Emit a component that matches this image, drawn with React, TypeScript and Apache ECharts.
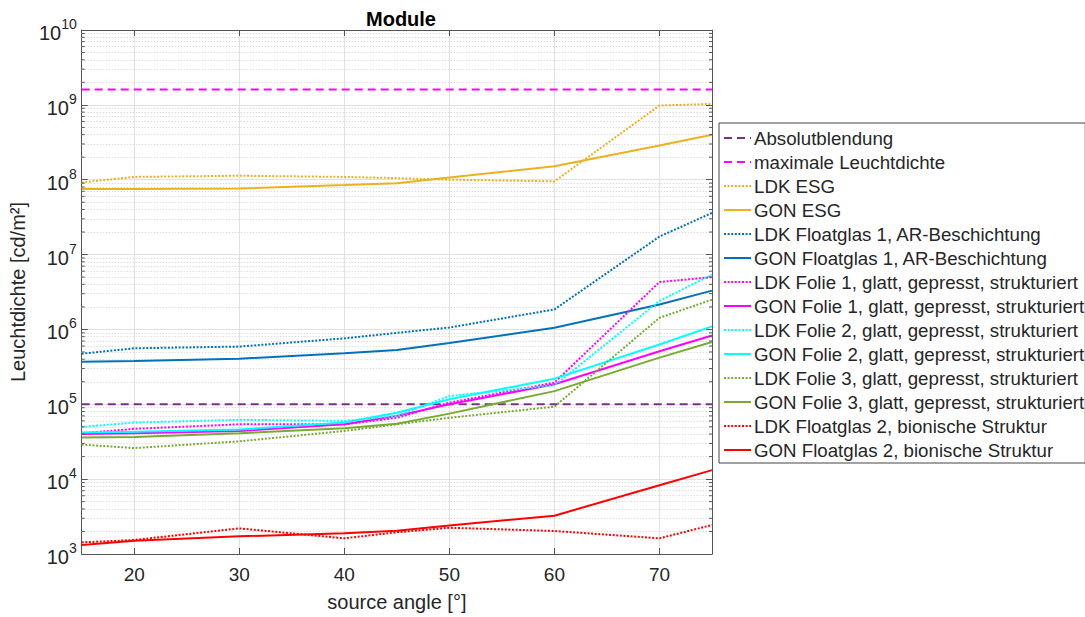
import React, { useEffect, useRef } from "react";
import * as echarts from "echarts";

const ANGLES = [15, 20, 30, 40, 45, 50, 60, 70, 75];

const ABSOLUTBLENDUNG = 1e5;
const MAX_LEUCHTDICHTE = 1.6e9;

const LDK_ESG = [9.2e7, 1.09e8, 1.13e8, 1.09e8, 1.05e8, 1.0e8, 9.5e7, 9.8e8, 1.03e9];
const GON_ESG = [7.5e7, 7.5e7, 7.65e7, 8.5e7, 9.0e7, 1.07e8, 1.51e8, 2.87e8, 4.0e8];
const LDK_FLOAT1 = [4.74e5, 5.6e5, 5.9e5, 7.6e5, 9.0e5, 1.06e6, 1.85e6, 1.74e7, 3.6e7];
const GON_FLOAT1 = [3.7e5, 3.8e5, 4.06e5, 4.8e5, 5.3e5, 6.6e5, 1.05e6, 2.15e6, 3.3e6];
const LDK_FOLIE1 = [4.1e4, 4.7e4, 5.4e4, 5.4e4, 6.6e4, 1.05e5, 1.95e5, 4.3e6, 5.0e6];
const GON_FOLIE1 = [4.0e4, 4.1e4, 4.4e4, 5.4e4, 7.0e4, 1.0e5, 1.85e5, 5.1e5, 8.3e5];
const LDK_FOLIE2 = [4.98e4, 5.7e4, 6.2e4, 6.0e4, 7.0e4, 1.29e5, 1.79e5, 2.4e6, 5.4e6];
const GON_FOLIE2 = [4.2e4, 4.3e4, 4.6e4, 5.7e4, 7.7e4, 1.17e5, 2.2e5, 6.3e5, 1.1e6];
const LDK_FOLIE3 = [2.9e4, 2.6e4, 3.2e4, 4.4e4, 5.4e4, 6.6e4, 9.3e4, 1.43e6, 2.5e6];
const GON_FOLIE3 = [3.6e4, 3.65e4, 4.1e4, 4.8e4, 5.5e4, 7.5e4, 1.5e5, 4.2e5, 6.8e5];
const LDK_FLOAT2 = [1.43e3, 1.54e3, 2.2e3, 1.62e3, 1.95e3, 2.24e3, 2.03e3, 1.62e3, 2.44e3];
const GON_FLOAT2 = [1.32e3, 1.5e3, 1.72e3, 1.9e3, 2.05e3, 2.4e3, 3.25e3, 8.3e3, 1.32e4];

const X_MIN = 15;
const X_MAX = 75;
const DECADES = [1e3, 1e4, 1e5, 1e6, 1e7, 1e8, 1e9];
const MINOR_STEPS = [2, 3, 4, 5, 6, 7, 8, 9];

const FONT = "'Liberation Sans', Arial, sans-serif";
const TXT = "#262626";
const AXIS = "#555";

const C_PURPLE = "#7E2F8E";
const C_MAGENTA = "#FF00FF";
const C_ORANGE = "#EDB120";
const C_BLUE = "#0072BD";
const C_CYAN = "#00FFFF";
const C_GREEN = "#77AC30";
const C_RED = "#FF0000";

const pairs = (vals: number[]) => ANGLES.map((a, i) => [a, vals[i]]);

export default function App() {
  const ref = useRef<HTMLDivElement>(null);
  useEffect(() => {
    if (!ref.current) return;
    const chart = echarts.init(ref.current, null, { renderer: "svg" });

    const minorValues: number[] = [];
    DECADES.forEach((d) => MINOR_STEPS.forEach((s) => minorValues.push(d * s)));
    const minorLines = minorValues.map((v) => ({ yAxis: v }));

    const lineSeries = (name: string, vals: number[], color: string, dotted: boolean) => ({
      name,
      type: "line",
      data: pairs(vals),
      symbol: "none",
      z: 3,
      lineStyle: { color, width: 2, type: dotted ? [2, 1.6] : "solid" },
      itemStyle: { color },
    });

    const option: any = {
      animation: false,
      title: {
        text: "Module",
        left: 396,
        top: 4,
        textAlign: "center",
        textStyle: { fontFamily: FONT, fontSize: 20, fontWeight: "bold", color: "#000" },
      },
      grid: { left: 80, top: 30, right: 1085 - 712, bottom: 617 - 556, containLabel: false },
      legend: {
        orient: "vertical",
        left: 719,
        top: 123,
        itemWidth: 27,
        itemHeight: 14,
        itemGap: 0,
        padding: [3, 1, 1, 4],
        borderColor: "#444",
        borderWidth: 1,
        backgroundColor: "#fff",
        itemStyle: { opacity: 0, borderWidth: 0 },
        textStyle: { fontFamily: FONT, fontSize: 18.7, color: TXT, lineHeight: 24, padding: [0, 0, 0, -2] },
        data: [
          "Absolutblendung",
          "maximale Leuchtdichte",
          "LDK ESG",
          "GON ESG",
          "LDK Floatglas 1, AR-Beschichtung",
          "GON Floatglas 1, AR-Beschichtung",
          "LDK Folie 1, glatt, gepresst, strukturiert",
          "GON Folie 1, glatt, gepresst, strukturiert",
          "LDK Folie 2, glatt, gepresst, strukturiert",
          "GON Folie 2, glatt, gepresst, strukturiert",
          "LDK Folie 3, glatt, gepresst, strukturiert",
          "GON Folie 3, glatt, gepresst, strukturiert",
          "LDK Floatglas 2, bionische Struktur",
          "GON Floatglas 2, bionische Struktur",
        ],
      },
      xAxis: [
        {
          type: "value",
          min: X_MIN,
          max: X_MAX,
          splitNumber: 6,
          name: "source angle [°]",
          nameLocation: "middle",
          nameGap: 38,
          nameTextStyle: { fontFamily: FONT, fontSize: 20, color: TXT },
          axisLine: { show: true, onZero: false, lineStyle: { color: AXIS, width: 1 } },
          axisTick: { show: true, inside: true, length: 6, lineStyle: { color: AXIS } },
          axisLabel: {
            showMinLabel: false,
            showMaxLabel: false,
            margin: 11,
            fontFamily: FONT,
            fontSize: 19,
            color: TXT,
          },
          splitLine: { show: true, lineStyle: { color: "#e1e1e1", width: 1 } },
        },
        {
          type: "value",
          position: "top",
          min: X_MIN,
          max: X_MAX,
          splitNumber: 6,
          axisLine: { show: true, onZero: false, lineStyle: { color: AXIS, width: 1 } },
          axisTick: { show: true, inside: true, length: 6, lineStyle: { color: AXIS } },
          axisLabel: { show: false },
          splitLine: { show: false },
        },
      ],
      yAxis: [
        {
          type: "log",
          logBase: 10,
          min: 1e3,
          max: 1e10,
          splitNumber: 7,
          name: "Leuchtdichte [cd/m²]",
          nameLocation: "middle",
          nameGap: 52,
          nameTextStyle: { fontFamily: FONT, fontSize: 20, color: TXT },
          axisLine: { show: true, onZero: false, lineStyle: { color: AXIS, width: 1 } },
          axisTick: { show: true, inside: true, length: 6, lineStyle: { color: AXIS } },
          axisLabel: {
            margin: 5,
            formatter: (v: number) => `{b|10}{s|${Math.round(Math.log10(v))}}`,
            rich: {
              b: { fontFamily: FONT, fontSize: 20, color: TXT, lineHeight: 26, verticalAlign: "bottom" },
              s: { fontFamily: FONT, fontSize: 14, color: TXT, lineHeight: 14, verticalAlign: "top" },
            },
          },
          splitLine: { show: true, lineStyle: { color: "#e1e1e1", width: 1 } },
        },
        {
          type: "log",
          logBase: 10,
          min: 1e3,
          max: 1e10,
          splitNumber: 7,
          position: "right",
          axisLine: { show: true, onZero: false, lineStyle: { color: AXIS, width: 1 } },
          axisTick: { show: true, inside: true, length: 6, lineStyle: { color: AXIS } },
          axisLabel: { show: false },
          splitLine: { show: false },
        },
      ],
      series: [
        {
          name: "Absolutblendung",
          type: "line",
          data: [
            [X_MIN, ABSOLUTBLENDUNG],
            [X_MAX, ABSOLUTBLENDUNG],
          ],
          symbol: "none",
          z: 3,
          lineStyle: { color: C_PURPLE, width: 2, type: [8, 5] },
          itemStyle: { color: C_PURPLE },
          markLine: {
            silent: true,
            symbol: "none",
            z: 1,
            label: { show: false },
            lineStyle: { color: "#cfcfcf", width: 1, type: [1, 2] },
            emphasis: { disabled: true },
            data: minorLines,
          },
        },
        {
          name: "maximale Leuchtdichte",
          type: "line",
          data: [
            [X_MIN, MAX_LEUCHTDICHTE],
            [X_MAX, MAX_LEUCHTDICHTE],
          ],
          symbol: "none",
          z: 3,
          lineStyle: { color: C_MAGENTA, width: 2, type: [8, 5] },
          itemStyle: { color: C_MAGENTA },
        },
        lineSeries("LDK ESG", LDK_ESG, C_ORANGE, true),
        lineSeries("GON ESG", GON_ESG, C_ORANGE, false),
        lineSeries("LDK Floatglas 1, AR-Beschichtung", LDK_FLOAT1, C_BLUE, true),
        lineSeries("GON Floatglas 1, AR-Beschichtung", GON_FLOAT1, C_BLUE, false),
        lineSeries("LDK Folie 1, glatt, gepresst, strukturiert", LDK_FOLIE1, C_MAGENTA, true),
        lineSeries("GON Folie 1, glatt, gepresst, strukturiert", GON_FOLIE1, C_MAGENTA, false),
        lineSeries("LDK Folie 2, glatt, gepresst, strukturiert", LDK_FOLIE2, C_CYAN, true),
        lineSeries("GON Folie 2, glatt, gepresst, strukturiert", GON_FOLIE2, C_CYAN, false),
        lineSeries("LDK Folie 3, glatt, gepresst, strukturiert", LDK_FOLIE3, C_GREEN, true),
        lineSeries("GON Folie 3, glatt, gepresst, strukturiert", GON_FOLIE3, C_GREEN, false),
        lineSeries("LDK Floatglas 2, bionische Struktur", LDK_FLOAT2, C_RED, true),
        lineSeries("GON Floatglas 2, bionische Struktur", GON_FLOAT2, C_RED, false),
        {
          name: "minorTicks",
          type: "custom",
          silent: true,
          z: 4,
          data: minorValues.map((v) => [X_MIN, v]),
          renderItem: (params: any, api: any) => {
            const l = api.coord([X_MIN, api.value(1)]);
            const r = api.coord([X_MAX, api.value(1)]);
            const st = { stroke: AXIS, lineWidth: 1 };
            return {
              type: "group",
              children: [
                { type: "line", shape: { x1: l[0], y1: l[1], x2: l[0] + 3, y2: l[1] }, style: st },
                { type: "line", shape: { x1: r[0] - 3, y1: r[1], x2: r[0], y2: r[1] }, style: st },
              ],
            };
          },
        },
      ],
    };

    chart.setOption(option);
    return () => chart.dispose();
  }, []);

  return (
    <div
      ref={ref}
      style={{ position: "fixed", left: 0, top: 0, width: "1085px", height: "617px", background: "#fff" }}
    />
  );
}
